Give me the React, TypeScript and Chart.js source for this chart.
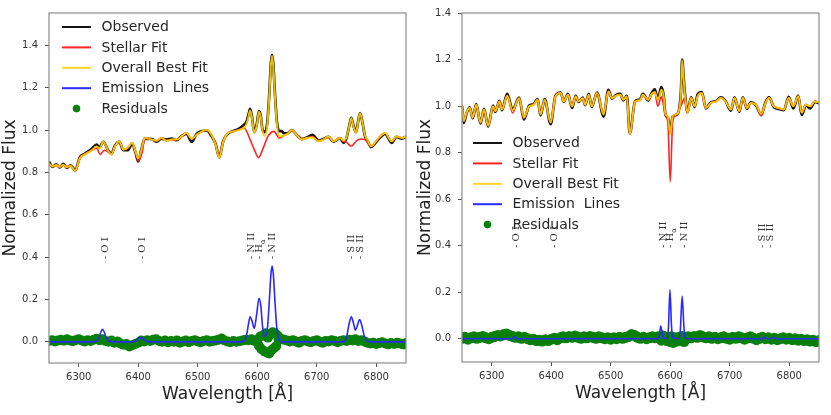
import React, { useRef, useEffect } from 'react';
import { Chart, registerables } from 'chart.js';

Chart.register(...registerables);

type Pt = [number, number];

// axis ticks
const xTicks = [6300, 6400, 6500, 6600, 6700, 6800];
const yTicks = [0.0, 0.2, 0.4, 0.6, 0.8, 1.0, 1.2, 1.4];

const legendLabels = ['Observed', 'Stellar Fit', 'Overall Best Fit', 'Emission  Lines', 'Residuals'];

// emission line markers (H gets a subscript alpha)
const lineNames = ['O I', 'O I', 'N II', 'H', 'N II', 'S II', 'S II'];
const leftLineWaves = [6344, 6407, 6590, 6604, 6626, 6759, 6773];
const rightLineWaves = [6341, 6405, 6588, 6601, 6623, 6755, 6769];
const lineLabelLevel = 0.39;

// ---- left galaxy ----
const leftStellar: Pt[] = [
  [6250, 0.842], [6256, 0.828], [6262, 0.835], [6268, 0.826], [6274, 0.836], [6280, 0.824], [6286, 0.832], [6294, 0.808],
  [6302, 0.868], [6310, 0.885], [6322, 0.905], [6330, 0.915], [6336, 0.885], [6343, 0.905], [6350, 0.895], [6355, 0.885],
  [6361, 0.924], [6368, 0.947], [6375, 0.908], [6382, 0.916], [6390, 0.940], [6395, 0.900], [6400, 0.855], [6407, 0.900],
  [6411, 0.963], [6423, 0.955], [6431, 0.950], [6439, 0.963], [6448, 0.950], [6456, 0.955], [6465, 0.955], [6473, 0.970],
  [6481, 0.986], [6490, 0.958], [6498, 0.978], [6507, 0.994], [6515, 1.000], [6523, 0.978], [6530, 0.932], [6536, 0.870],
  [6543, 0.947], [6551, 0.986], [6560, 0.994], [6568, 1.000], [6578, 1.010], [6588, 0.955], [6595, 0.908], [6602, 0.870],
  [6610, 0.915], [6618, 0.970], [6628, 0.994], [6637, 0.963], [6645, 0.975], [6651, 0.982], [6658, 1.000], [6666, 0.978],
  [6675, 0.955], [6683, 0.963], [6693, 0.970], [6703, 0.947], [6711, 0.955], [6720, 0.970], [6728, 0.947], [6739, 0.963],
  [6745, 0.948], [6750, 0.942], [6758, 0.924], [6766, 0.947], [6773, 0.958], [6781, 0.955], [6791, 0.924], [6804, 0.963],
  [6815, 0.986], [6826, 0.947], [6834, 0.970], [6843, 0.963], [6850, 0.970],
];

const leftOverall: Pt[] = [
  [6250, 0.842], [6256, 0.828], [6262, 0.835], [6268, 0.826], [6274, 0.836], [6280, 0.824], [6286, 0.832], [6294, 0.808],
  [6302, 0.868], [6310, 0.885], [6322, 0.905], [6330, 0.922], [6335, 0.912], [6341, 0.945], [6350, 0.900], [6355, 0.885],
  [6361, 0.924], [6368, 0.947], [6375, 0.908], [6382, 0.916], [6390, 0.940], [6395, 0.902], [6400, 0.866], [6405, 0.905],
  [6411, 0.963], [6423, 0.955], [6431, 0.950], [6439, 0.963], [6448, 0.950], [6456, 0.955], [6465, 0.955], [6473, 0.970],
  [6481, 0.986], [6490, 0.958], [6498, 0.978], [6507, 0.994], [6515, 1.000], [6523, 0.978], [6530, 0.932], [6536, 0.870],
  [6543, 0.947], [6551, 0.986], [6560, 0.994], [6568, 1.000], [6578, 1.012], [6582, 1.030], [6585, 1.060], [6588, 1.093],
  [6591, 1.060], [6595, 0.986], [6599, 1.020], [6603, 1.087], [6606, 1.060], [6609, 0.995], [6613, 0.972], [6617, 1.030],
  [6620, 1.150], [6623, 1.310], [6625, 1.350], [6627, 1.300], [6630, 1.150], [6633, 1.030], [6637, 0.970], [6645, 0.975],
  [6651, 0.982], [6658, 1.000], [6666, 0.978], [6675, 0.955], [6683, 0.963], [6693, 0.965], [6703, 0.947], [6711, 0.955],
  [6720, 0.970], [6728, 0.947], [6739, 0.963], [6745, 0.950], [6750, 0.965], [6754, 1.010], [6758, 1.056], [6762, 1.015],
  [6766, 0.988], [6769, 1.030], [6773, 1.079], [6777, 1.030], [6781, 0.975], [6786, 0.950], [6791, 0.924], [6804, 0.963],
  [6815, 0.986], [6826, 0.947], [6834, 0.970], [6843, 0.963], [6850, 0.970],
];

const leftObserved: Pt[] = [
  [6250, 0.850], [6256, 0.826], [6262, 0.838], [6268, 0.824], [6274, 0.840], [6280, 0.822], [6286, 0.834], [6294, 0.810],
  [6302, 0.872], [6310, 0.888], [6322, 0.912], [6330, 0.932], [6335, 0.918], [6341, 0.945], [6350, 0.902], [6355, 0.888],
  [6361, 0.928], [6368, 0.945], [6375, 0.905], [6382, 0.905], [6390, 0.935], [6395, 0.898], [6400, 0.852], [6405, 0.905],
  [6411, 0.960], [6423, 0.958], [6431, 0.945], [6439, 0.960], [6448, 0.955], [6456, 0.960], [6465, 0.952], [6473, 0.972],
  [6481, 0.982], [6490, 0.945], [6498, 0.982], [6507, 0.996], [6515, 0.998], [6523, 0.972], [6530, 0.935], [6536, 0.872],
  [6543, 0.950], [6551, 0.984], [6560, 0.996], [6568, 1.004], [6578, 1.025], [6582, 1.040], [6585, 1.070], [6588, 1.100],
  [6591, 1.065], [6595, 0.990], [6599, 1.025], [6603, 1.090], [6606, 1.065], [6609, 1.000], [6613, 0.990], [6617, 1.040],
  [6620, 1.160], [6623, 1.320], [6625, 1.355], [6627, 1.310], [6630, 1.160], [6633, 1.040], [6637, 0.995], [6641, 0.995],
  [6645, 0.985], [6651, 0.985], [6658, 1.000], [6666, 0.978], [6675, 0.958], [6683, 0.965], [6693, 0.978], [6703, 0.950],
  [6711, 0.958], [6720, 0.968], [6728, 0.945], [6739, 0.962], [6745, 0.940], [6750, 0.962], [6754, 1.012], [6758, 1.058],
  [6762, 1.018], [6766, 0.990], [6769, 1.032], [6773, 1.080], [6777, 1.032], [6781, 0.972], [6786, 0.945], [6791, 0.920],
  [6804, 0.958], [6815, 0.982], [6826, 0.940], [6834, 0.968], [6843, 0.960], [6850, 0.968],
];

const leftEmission: Pt[] = [
  [6250, 0], [6325, 0], [6330, 0.004], [6334, 0.020], [6337, 0.045], [6340, 0.059], [6343, 0.045], [6346, 0.020],
  [6350, 0.004], [6355, 0], [6390, 0], [6396, 0.005], [6400, 0.015], [6404, 0.020], [6408, 0.015], [6412, 0.005],
  [6418, 0], [6570, 0], [6578, 0.005], [6582, 0.030], [6585, 0.080], [6588, 0.118], [6591, 0.100], [6595, 0.064],
  [6599, 0.130], [6603, 0.206], [6606, 0.170], [6609, 0.070], [6613, 0.025], [6617, 0.060], [6620, 0.180], [6623, 0.320],
  [6625, 0.358], [6627, 0.320], [6630, 0.180], [6633, 0.060], [6636, 0.015], [6640, 0], [6745, 0], [6750, 0.020],
  [6754, 0.080], [6758, 0.118], [6762, 0.085], [6765, 0.055], [6768, 0.075], [6772, 0.105], [6776, 0.075], [6780, 0.025],
  [6785, 0.003], [6790, 0], [6850, 0],
];

const leftResidual: Pt[] = [
  [6250, 0.004], [6255, 0.008], [6260, 0.002], [6265, 0.006], [6270, 0.010], [6275, 0.005], [6280, 0.012], [6285, 0.006],
  [6290, 0.003], [6295, 0.008], [6300, 0.012], [6305, 0.006], [6310, 0.002], [6315, 0.007], [6320, 0.004], [6325, 0.010],
  [6330, 0.014], [6335, 0.008], [6340, 0.012], [6345, 0.004], [6350, 0.000], [6355, 0.006], [6360, -0.004], [6365, 0.002],
  [6370, -0.008], [6375, -0.014], [6380, -0.010], [6385, -0.022], [6390, -0.016], [6395, -0.010], [6400, -0.004], [6405, 0.006],
  [6410, 0.002], [6415, 0.008], [6420, 0.004], [6425, 0.010], [6430, 0.012], [6435, 0.004], [6440, 0.000], [6445, 0.006],
  [6450, -0.002], [6455, 0.004], [6460, 0.000], [6465, 0.006], [6470, -0.004], [6475, 0.002], [6480, 0.006], [6485, -0.002],
  [6490, 0.004], [6495, 0.008], [6500, 0.002], [6505, -0.002], [6510, 0.004], [6515, 0.008], [6520, 0.000], [6525, 0.004],
  [6530, 0.006], [6535, 0.010], [6540, 0.016], [6545, 0.006], [6550, 0.002], [6555, -0.002], [6560, 0.004], [6565, 0.000],
  [6570, 0.003], [6575, 0.006], [6580, 0.010], [6585, 0.008], [6590, 0.012], [6595, 0.004], [6600, 0.010], [6603, -0.020],
  [6605, 0.025], [6607, -0.035], [6610, 0.030], [6612, -0.045], [6614, 0.040], [6616, -0.050], [6618, 0.020], [6620, -0.055],
  [6622, 0.035], [6624, -0.040], [6626, 0.045], [6628, -0.030], [6630, 0.040], [6632, -0.020], [6634, 0.030], [6636, 0.010],
  [6640, 0.015], [6645, 0.010], [6650, 0.006], [6655, 0.002], [6660, 0.008], [6665, 0.002], [6670, -0.004], [6675, 0.004],
  [6680, 0.008], [6685, 0.002], [6690, -0.002], [6695, 0.004], [6700, 0.008], [6705, 0.000], [6710, -0.004], [6715, 0.004],
  [6720, 0.002], [6725, 0.008], [6730, 0.004], [6735, -0.002], [6740, 0.004], [6745, 0.008], [6750, 0.004], [6755, 0.010],
  [6760, 0.006], [6765, 0.012], [6770, 0.004], [6775, 0.008], [6780, 0.002], [6785, -0.004], [6790, -0.008], [6795, -0.004],
  [6800, -0.010], [6805, -0.006], [6810, -0.002], [6815, -0.008], [6820, -0.012], [6825, -0.006], [6830, -0.010], [6835, -0.004],
  [6840, -0.008], [6845, -0.012], [6850, -0.006],
];

// ---- right galaxy ----
const rightStellar: Pt[] = [
  [6250, 1.005], [6253, 0.936], [6258, 0.975], [6263, 0.992], [6268, 0.950], [6274, 1.006], [6281, 0.929], [6287, 0.985],
  [6294, 0.915], [6302, 0.999], [6306, 0.978], [6313, 1.020], [6317, 0.985], [6326, 1.044], [6335, 0.970], [6346, 1.034],
  [6354, 0.950], [6363, 0.999], [6370, 1.005], [6377, 1.027], [6382, 0.964], [6389, 1.027], [6399, 0.929], [6407, 1.041],
  [6416, 1.056], [6421, 1.020], [6428, 1.049], [6435, 0.999], [6441, 1.041], [6446, 1.020], [6453, 1.034], [6457, 1.006],
  [6463, 1.049], [6468, 0.999], [6477, 1.056], [6488, 0.964], [6496, 1.063], [6502, 1.034], [6509, 1.045], [6516, 1.049],
  [6521, 1.027], [6527, 1.041], [6532, 0.879], [6541, 1.020], [6549, 1.025], [6554, 1.049], [6563, 1.027], [6568, 1.049],
  [6574, 1.060], [6579, 0.999], [6585, 1.040], [6589, 0.999], [6592, 0.960], [6596, 0.930], [6600, 0.675], [6604, 0.930],
  [6610, 0.964], [6615, 0.985], [6620, 1.013], [6624, 1.035], [6629, 0.971], [6635, 1.035], [6641, 0.999], [6646, 1.042],
  [6653, 1.056], [6660, 0.992], [6668, 1.013], [6677, 1.020], [6685, 1.035], [6693, 1.020], [6702, 0.985], [6708, 1.035],
  [6716, 0.978], [6722, 1.035], [6729, 0.992], [6735, 1.013], [6744, 1.006], [6753, 0.958], [6760, 1.013], [6766, 1.035],
  [6774, 0.999], [6782, 0.992], [6791, 0.985], [6799, 1.035], [6807, 0.999], [6815, 1.042], [6821, 0.971], [6828, 1.006],
  [6835, 0.999], [6843, 1.020], [6850, 1.015],
];

const rightOverall: Pt[] = [
  [6250, 1.005], [6253, 0.936], [6258, 0.975], [6263, 0.992], [6268, 0.950], [6274, 1.006], [6281, 0.929], [6287, 0.985],
  [6294, 0.915], [6302, 0.999], [6306, 0.978], [6313, 1.020], [6317, 0.985], [6326, 1.044], [6335, 0.982], [6346, 1.034],
  [6354, 0.950], [6363, 0.999], [6370, 1.005], [6377, 1.027], [6382, 0.964], [6389, 1.027], [6399, 0.929], [6407, 1.041],
  [6416, 1.056], [6421, 1.020], [6428, 1.049], [6435, 0.999], [6441, 1.041], [6446, 1.020], [6453, 1.034], [6457, 1.006],
  [6463, 1.049], [6468, 0.999], [6477, 1.056], [6488, 0.964], [6496, 1.063], [6502, 1.034], [6509, 1.045], [6516, 1.049],
  [6521, 1.027], [6527, 1.041], [6532, 0.879], [6541, 1.020], [6549, 1.025], [6554, 1.049], [6563, 1.027], [6568, 1.049],
  [6574, 1.060], [6579, 1.027], [6582, 1.045], [6585, 1.070], [6589, 1.042], [6592, 0.964], [6596, 0.955], [6600, 0.879],
  [6604, 0.957], [6610, 0.964], [6615, 0.985], [6618, 1.060], [6620, 1.197], [6623, 1.100], [6625, 1.040], [6629, 0.971],
  [6635, 1.035], [6641, 0.999], [6646, 1.042], [6653, 1.056], [6660, 0.992], [6668, 1.013], [6677, 1.020], [6685, 1.035],
  [6693, 1.020], [6702, 0.985], [6708, 1.035], [6716, 0.978], [6722, 1.035], [6729, 0.992], [6735, 1.013], [6744, 1.006],
  [6753, 0.966], [6760, 1.013], [6766, 1.035], [6774, 0.999], [6782, 0.992], [6791, 0.985], [6799, 1.035], [6807, 0.999],
  [6815, 1.042], [6821, 0.971], [6828, 1.006], [6835, 0.999], [6843, 1.020], [6850, 1.015],
];

const rightObserved: Pt[] = [
  [6250, 1.000], [6253, 0.928], [6258, 0.972], [6263, 0.995], [6268, 0.948], [6274, 1.008], [6281, 0.925], [6287, 0.988],
  [6294, 0.912], [6302, 1.002], [6306, 0.975], [6313, 1.022], [6317, 0.982], [6326, 1.052], [6335, 0.985], [6346, 1.036],
  [6354, 0.942], [6363, 1.002], [6370, 1.008], [6377, 1.030], [6382, 0.960], [6389, 1.030], [6399, 0.922], [6407, 1.044],
  [6416, 1.058], [6421, 1.018], [6428, 1.052], [6435, 0.992], [6441, 1.044], [6446, 1.018], [6453, 1.036], [6457, 1.004],
  [6463, 1.052], [6468, 0.996], [6477, 1.058], [6488, 0.955], [6496, 1.070], [6502, 1.032], [6509, 1.048], [6516, 1.052],
  [6521, 1.024], [6527, 1.044], [6532, 0.882], [6541, 1.022], [6549, 1.028], [6554, 1.052], [6563, 1.024], [6568, 1.052],
  [6574, 1.072], [6579, 1.030], [6582, 1.055], [6585, 1.082], [6589, 1.045], [6592, 0.962], [6596, 0.950], [6600, 0.890],
  [6604, 0.955], [6610, 0.962], [6615, 0.988], [6618, 1.065], [6620, 1.200], [6623, 1.105], [6625, 1.045], [6629, 0.974],
  [6635, 1.038], [6641, 0.996], [6646, 1.050], [6653, 1.060], [6660, 0.990], [6668, 1.016], [6677, 1.022], [6685, 1.038],
  [6693, 1.022], [6702, 0.980], [6708, 1.038], [6716, 0.975], [6722, 1.038], [6729, 0.988], [6735, 1.016], [6744, 1.004],
  [6753, 0.962], [6760, 1.016], [6766, 1.038], [6774, 0.996], [6782, 0.988], [6791, 0.982], [6799, 1.040], [6807, 0.990],
  [6815, 1.045], [6821, 0.962], [6828, 1.004], [6835, 0.990], [6843, 1.018], [6850, 1.012],
];

const rightEmission: Pt[] = [
  [6250, 0], [6334, 0], [6338, 0.008], [6342, 0], [6580, 0], [6582, 0.020], [6584, 0.055], [6586, 0.030], [6588, 0.004],
  [6595, 0], [6597, 0.050], [6599.5, 0.210], [6602, 0.060], [6604, 0.005], [6615, 0], [6617, 0.040], [6620, 0.182],
  [6623, 0.050], [6625, 0.005], [6628, 0], [6754, 0], [6758, 0.006], [6762, 0], [6768, 0], [6772, 0.005], [6776, 0],
  [6850, 0],
];

const rightResidual: Pt[] = [
  [6250, 0.002], [6255, 0.006], [6260, -0.002], [6265, 0.004], [6270, 0.008], [6275, 0.002], [6280, 0.006], [6285, 0.010],
  [6290, 0.004], [6295, 0.000], [6300, 0.006], [6305, 0.010], [6310, 0.014], [6315, 0.012], [6320, 0.018], [6325, 0.020],
  [6330, 0.014], [6335, 0.010], [6340, 0.006], [6345, 0.008], [6350, 0.002], [6355, 0.006], [6360, 0.000], [6365, -0.004],
  [6370, -0.002], [6375, -0.008], [6380, -0.006], [6385, -0.010], [6390, -0.004], [6395, -0.008], [6400, -0.002], [6405, 0.002],
  [6410, -0.004], [6415, 0.004], [6420, 0.008], [6425, 0.004], [6430, 0.010], [6435, 0.006], [6440, 0.012], [6445, 0.006],
  [6450, 0.002], [6455, 0.008], [6460, 0.004], [6465, 0.010], [6470, 0.006], [6475, 0.002], [6480, 0.008], [6485, 0.004],
  [6490, 0.000], [6495, 0.004], [6500, -0.002], [6505, 0.004], [6510, 0.000], [6515, 0.006], [6520, 0.002], [6525, 0.006],
  [6530, 0.010], [6535, 0.018], [6540, 0.014], [6545, 0.006], [6550, 0.002], [6555, 0.006], [6560, 0.000], [6565, 0.004],
  [6570, 0.008], [6575, 0.004], [6580, 0.008], [6585, -0.006], [6588, 0.012], [6590, 0.002], [6594, -0.008], [6597, 0.006],
  [6600, -0.012], [6602, 0.008], [6605, -0.016], [6608, 0.004], [6611, -0.010], [6615, 0.006], [6618, -0.006], [6620, 0.010],
  [6623, -0.012], [6626, 0.006], [6630, 0.008], [6635, 0.004], [6640, 0.010], [6645, 0.006], [6650, 0.014], [6655, 0.008],
  [6660, 0.004], [6665, 0.008], [6670, 0.002], [6675, 0.006], [6680, 0.000], [6685, 0.004], [6690, 0.008], [6695, 0.002],
  [6700, -0.002], [6705, 0.006], [6710, 0.002], [6715, 0.008], [6720, 0.004], [6725, -0.002], [6730, 0.004], [6735, 0.008],
  [6740, 0.002], [6745, -0.004], [6750, 0.002], [6755, 0.006], [6760, 0.000], [6765, 0.004], [6770, -0.002], [6775, 0.002],
  [6780, -0.004], [6785, 0.000], [6790, 0.004], [6795, -0.002], [6800, 0.002], [6805, -0.004], [6810, 0.000], [6815, -0.006],
  [6820, -0.002], [6825, -0.008], [6830, -0.004], [6835, -0.010], [6840, -0.006], [6845, -0.012], [6850, -0.008],
];

const FONT = 'DejaVu Sans';
const colors = {
  observed: '#141414',
  stellar: '#ff2424',
  overall: 'rgba(255, 204, 0, 0.92)',
  emission: '#2a2aff',
  residual: '#0a800a',
};
const legendColors = [colors.observed, colors.stellar, '#ffd428', colors.emission, colors.residual];

interface PanelProps {
  observed: Pt[];
  stellar: Pt[];
  overall: Pt[];
  emission: Pt[];
  residual: Pt[];
  lineWaves: number[];
  yMax: number;
  left: number;
  width: number;
  yAxisWidth: number;
  xAxisHeight: number;
  padTop: number;
  padRight: number;
  yTitlePad: number;
  xTitlePad: number;
  legendX: number;
  legendY: number;
  dotRadius: number;
}

const toXY = (pts: Pt[]) => pts.map(([x, y]) => ({ x, y }));

const SpectrumPanel: React.FC<PanelProps> = (p) => {
  const chartRef = useRef<HTMLCanvasElement | null>(null);

  useEffect(() => {
    if (!chartRef.current) return;

    const overlay = {
      id: 'overlay',
      afterDatasetsDraw(chart: any) {
        const { ctx, chartArea: a, scales } = chart;
        ctx.save();
        // axes box
        ctx.strokeStyle = '#8c8c8c';
        ctx.lineWidth = 1.2;
        ctx.strokeRect(a.left, a.top, a.right - a.left, a.bottom - a.top);

        // legend
        ctx.font = `14px "${FONT}"`;
        ctx.textBaseline = 'middle';
        ctx.textAlign = 'left';
        legendLabels.forEach((label, i) => {
          const y = p.legendY + i * 20.4;
          if (i === legendLabels.length - 1) {
            ctx.fillStyle = legendColors[i];
            ctx.beginPath();
            ctx.arc(p.legendX + 14.5, y, 3.8, 0, Math.PI * 2);
            ctx.fill();
          } else {
            ctx.strokeStyle = legendColors[i];
            ctx.lineWidth = 2;
            ctx.beginPath();
            ctx.moveTo(p.legendX, y);
            ctx.lineTo(p.legendX + 29, y);
            ctx.stroke();
          }
          ctx.fillStyle = '#262626';
          ctx.fillText(label, p.legendX + 39.5, y + 0.5);
        });

        // emission line markers
        ctx.fillStyle = '#333';
        p.lineWaves.forEach((w, i) => {
          const x = scales.x.getPixelForValue(w);
          const y = scales.y.getPixelForValue(lineLabelLevel);
          const txt = '- ' + lineNames[i];
          ctx.save();
          ctx.translate(x, y);
          ctx.rotate(-Math.PI / 2);
          ctx.font = '10px "DejaVu Serif"';
          ctx.textAlign = 'left';
          ctx.textBaseline = 'middle';
          ctx.fillText(txt, 0, 0);
          if (lineNames[i] === 'H') {
            const tw = ctx.measureText(txt).width;
            ctx.font = '7px "DejaVu Serif"';
            ctx.fillText('α', tw, 3.5);
          }
          ctx.restore();
        });
        ctx.restore();
      },
    };

    const lineDs = (label: string, data: Pt[], color: string, width: number, order: number) => ({
      label,
      data: toXY(data),
      borderColor: color,
      backgroundColor: color,
      borderWidth: width,
      pointRadius: 0,
      cubicInterpolationMode: 'monotone' as const,
      order,
    });

    const tickFont = { family: FONT, size: 10 };
    const titleFont = { family: FONT, size: 17 };
    const grid = { drawOnChartArea: false, drawTicks: true, tickLength: 4, color: '#555', lineWidth: 1 };

    const chart = new Chart(chartRef.current, {
      type: 'line',
      data: {
        datasets: [
          lineDs('Emission  Lines', p.emission, colors.emission, 1.6, 1),
          {
            label: 'Residuals',
            data: toXY(p.residual),
            showLine: false,
            pointRadius: p.dotRadius,
            pointBorderWidth: 0,
            pointBackgroundColor: colors.residual,
            borderColor: colors.residual,
            order: 2,
          },
          lineDs('Overall Best Fit', p.overall, colors.overall, 2, 3),
          lineDs('Stellar Fit', p.stellar, colors.stellar, 1.6, 4),
          lineDs('Observed', p.observed, colors.observed, 2.7, 5),
        ] as any,
      },
      options: {
        responsive: false,
        animation: false,
        events: [],
        layout: { padding: { top: p.padTop, right: p.padRight, left: 0, bottom: 0 } },
        plugins: { legend: { display: false }, tooltip: { enabled: false } },
        scales: {
          x: {
            type: 'linear',
            min: 6250,
            max: 6850,
            afterBuildTicks: (s: any) => {
              s.ticks = xTicks.map((v) => ({ value: v }));
            },
            afterFit: (s: any) => {
              s.height = p.xAxisHeight;
            },
            ticks: { font: tickFont, color: '#333', padding: 4, maxRotation: 0, callback: (v: any) => String(v) },
            grid,
            border: { display: false },
            title: {
              display: true,
              text: 'Wavelength [Å]',
              font: titleFont,
              color: '#222',
              padding: { top: 0, bottom: p.xTitlePad },
            },
          },
          y: {
            type: 'linear',
            min: -0.1,
            max: p.yMax,
            afterBuildTicks: (s: any) => {
              s.ticks = yTicks.map((v) => ({ value: v }));
            },
            afterFit: (s: any) => {
              s.width = p.yAxisWidth;
            },
            ticks: { font: tickFont, color: '#333', padding: 7, callback: (v: any) => Number(v).toFixed(1) },
            grid,
            border: { display: false },
            title: {
              display: true,
              text: 'Normalized Flux',
              font: titleFont,
              color: '#222',
              padding: { top: p.yTitlePad, bottom: 0 },
            },
          },
        },
      },
      plugins: [overlay],
    });

    return () => {
      chart.destroy();
    };
  }, [p]);

  return (
    <div style={{ position: 'absolute', left: p.left, top: 0, width: p.width, height: 415 }}>
      <canvas ref={chartRef} width={p.width} height={415}></canvas>
    </div>
  );
};

const App: React.FC = () => (
  <div style={{ position: 'absolute', left: 0, top: 0, width: 831, height: 415, background: '#fff' }}>
    <SpectrumPanel
      observed={leftObserved}
      stellar={leftStellar}
      overall={leftOverall}
      emission={leftEmission}
      residual={leftResidual}
      lineWaves={leftLineWaves}
      yMax={1.553}
      left={0}
      width={415}
      yAxisWidth={49}
      xAxisHeight={52}
      padTop={8}
      padRight={9}
      yTitlePad={0}
      xTitlePad={10}
      legendX={62}
      legendY={27}
      dotRadius={5}
    />
    <SpectrumPanel
      observed={rightObserved}
      stellar={rightStellar}
      overall={rightOverall}
      emission={rightEmission}
      residual={rightResidual}
      lineWaves={rightLineWaves}
      yMax={1.4}
      left={415}
      width={416}
      yAxisWidth={47}
      xAxisHeight={53}
      padTop={7}
      padRight={12}
      yTitlePad={0}
      xTitlePad={11}
      legendX={58}
      legendY={143}
      dotRadius={5.5}
    />
  </div>
);

export default App;
